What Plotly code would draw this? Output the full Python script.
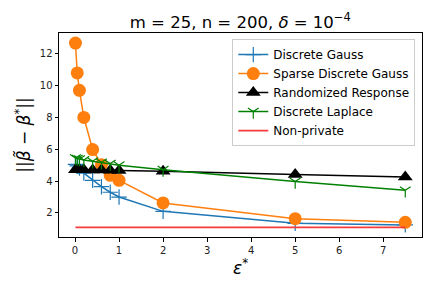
import plotly.graph_objects as go

eps = [0.01, 0.05, 0.1, 0.2, 0.4, 0.6, 0.8, 1.0, 2.0, 5.0, 7.5]
discrete_gauss = [5.05, 4.95, 4.82, 4.5, 4.05, 3.65, 3.3, 3.0, 2.1, 1.35, 1.25]
sparse_discrete_gauss = [12.67, 10.79, 9.7, 8.0, 5.98, 5.03, 4.36, 4.05, 2.63, 1.64, 1.41]
randomized_response = [4.72, 4.72, 4.72, 4.71, 4.70, 4.69, 4.68, 4.67, 4.62, 4.41, 4.26]
discrete_laplace = [5.45, 5.41, 5.38, 5.33, 5.25, 5.18, 5.1, 5.0, 4.72, 3.97, 3.42]
non_private = [1.1] * len(eps)

fig = go.Figure()
fig.add_trace(go.Scatter(x=eps, y=discrete_gauss, name="Discrete Gauss", mode="lines+markers",
                         line=dict(color="#1f77b4", width=1.5),
                         marker=dict(symbol="cross-thin-open", size=11, line=dict(color="#1f77b4", width=1.2))))
fig.add_trace(go.Scatter(x=eps, y=sparse_discrete_gauss, name="Sparse Discrete Gauss", mode="lines+markers",
                         line=dict(color="#ff7f0e", width=1.5),
                         marker=dict(symbol="circle", size=13, color="#ff7f0e")))
fig.add_trace(go.Scatter(x=eps, y=randomized_response, name="Randomized Response", mode="lines+markers",
                         line=dict(color="black", width=1.5),
                         marker=dict(symbol="triangle-up", size=13, color="black")))
fig.add_trace(go.Scatter(x=eps, y=discrete_laplace, name="Discrete Laplace", mode="lines+markers",
                         line=dict(color="green", width=1.5),
                         marker=dict(symbol="y-down-open", size=9, line=dict(color="green", width=1.2))))
fig.add_trace(go.Scatter(x=eps, y=non_private, name="Non-private", mode="lines",
                         line=dict(color="#f53b3b", width=1.8)))

axis_common = dict(showline=True, linecolor="black", linewidth=1, mirror=True,
                   ticks="outside", ticklen=3.5, tickwidth=1, tickcolor="black",
                   showgrid=False, zeroline=False, automargin=False,
                   tickfont=dict(family="DejaVu Sans", size=10, color="#222"))

# the page body adds an 8px offset, so the figure is 8px smaller and shifted
fig.update_layout(
    width=424, height=280,
    margin=dict(l=51, r=10, t=25, b=51, autoexpand=False),
    paper_bgcolor="white", plot_bgcolor="white",
    title=dict(text="m = 25, n = 200, <i>δ</i> = 10<sup>−4</sup>", x=0.548, xanchor="center",
               y=0.95, yanchor="middle",
               font=dict(family="DejaVu Sans", size=16.5, color="black")),
    xaxis=dict(range=[-0.364, 7.88], tickvals=[0, 1, 2, 3, 4, 5, 6, 7],
               title=dict(text="<i>ε</i><sup>*</sup>", font=dict(family="DejaVu Sans", size=17, color="black"),
                          standoff=7),
               **axis_common),
    yaxis=dict(range=[0.49, 13.3], tickvals=[2, 4, 6, 8, 10, 12],
               title=dict(text="||<i>β̃</i> − <i>β</i><sup>*</sup>||",
                          font=dict(family="DejaVu Sans", size=17, color="black"), standoff=4),
               **axis_common),
    legend=dict(x=0.9815, y=0.97, xanchor="right", yanchor="top",
                bgcolor="rgba(255,255,255,0.8)", bordercolor="#cccccc", borderwidth=1,
                font=dict(family="DejaVu Sans", size=12, color="black"),
                tracegroupgap=0),
    showlegend=True,
)

fig.write_html("out.html")
